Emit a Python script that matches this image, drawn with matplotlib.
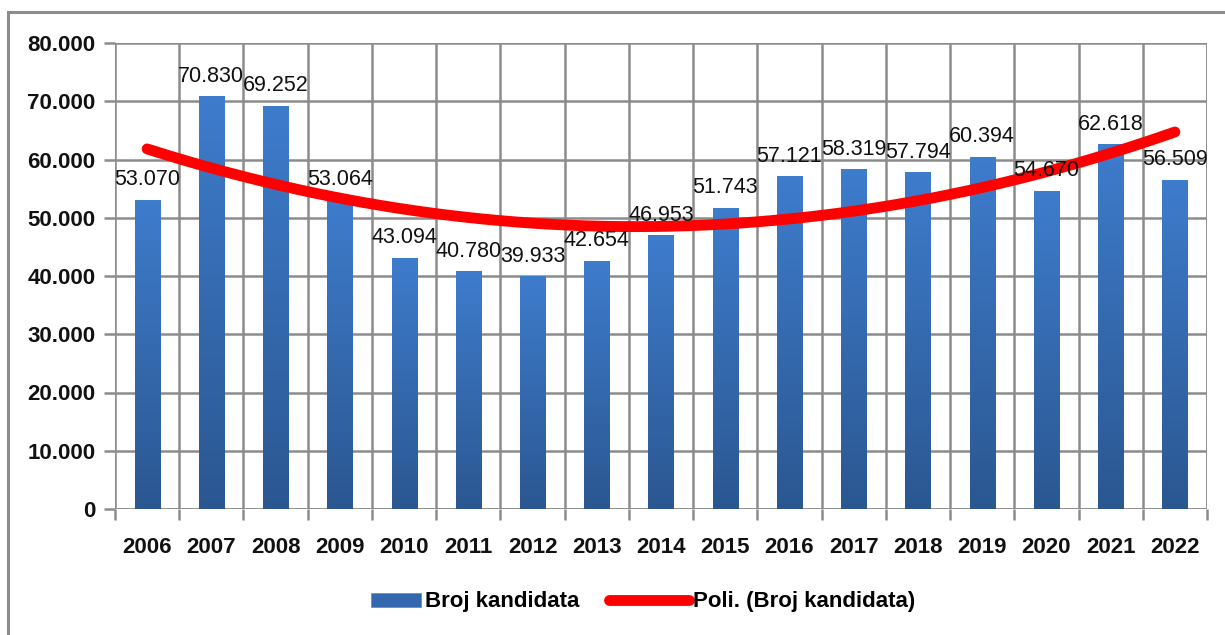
import numpy as np
import matplotlib
matplotlib.use("Agg")
import matplotlib.pyplot as plt
from matplotlib.patches import Rectangle, Patch
from matplotlib.lines import Line2D
from matplotlib.legend_handler import HandlerPatch
from matplotlib.ticker import FuncFormatter, MultipleLocator
from matplotlib.colors import LinearSegmentedColormap
from matplotlib import font_manager

years = [str(y) for y in range(2006, 2023)]
values = [53070, 70830, 69252, 53064, 43094, 40780, 39933, 42654, 46953,
          51743, 57121, 58319, 57794, 60394, 54670, 62618, 56509]
series_name = "Broj kandidata"
trend_name = "Poli. (Broj kandidata)"

avail = {f.name for f in font_manager.fontManager.ttflist}
narrow = "Liberation Sans Narrow" if "Liberation Sans Narrow" in avail else "Liberation Sans"
plt.rcParams['font.family'] = [narrow, 'DejaVu Sans']

W, H = 1225, 635
fig = plt.figure(figsize=(W / 100, H / 100), dpi=100)
ax = fig.add_axes([115 / W, 1 - 509 / H, (1207 - 115) / W, (509 - 43) / H])

x = np.arange(len(values))
bars = ax.bar(x, values, width=0.39, color="#3a73bd", zorder=3)

cmap = LinearSegmentedColormap.from_list("g", ["#2b5791", "#3e7ccc"])
grad = np.linspace(0, 1, 256).reshape(-1, 1)
for b in bars:
    x0, y0, w, h = b.get_x(), b.get_y(), b.get_width(), b.get_height()
    im = ax.imshow(grad, extent=(x0, x0 + w, y0, y0 + h), origin="lower",
                   cmap=cmap, aspect="auto", zorder=3.1)
    im.set_clip_path(b)

# polynomial (order 2) trend line, least squares like Excel
coef = np.polyfit(x, values, 2)
xs = np.linspace(0, len(values) - 1, 300)
ax.plot(xs, np.polyval(coef, xs), color="#ff0000", lw=7.8,
        solid_capstyle="round", zorder=4)

for xi, v in zip(x, values):
    ax.annotate(f"{v/1000:.3f}", (xi, v), xytext=(0, 7), textcoords="offset points",
                ha="center", va="bottom", fontsize=15.5, color="#111111", zorder=5)

ax.set_xlim(-0.5, len(values) - 0.5)
ax.set_ylim(0, 80000)
ax.yaxis.set_major_locator(MultipleLocator(10000))
ax.yaxis.set_major_formatter(FuncFormatter(lambda v, p: "0" if v == 0 else f"{int(v)//1000}.000"))
ax.set_xticks(x)
ax.set_xticklabels(years)
ax.set_xticks(np.arange(-0.5, len(values), 1), minor=True)

grid_c = "#8c8c8c"
ax.grid(True, axis="y", color=grid_c, lw=1.8, zorder=0)
ax.grid(True, axis="x", which="minor", color=grid_c, lw=1.8, zorder=0)
ax.grid(False, axis="x", which="major")
for s in ax.spines.values():
    s.set_visible(False)
ax.tick_params(axis="x", which="major", length=0, pad=20)
ax.tick_params(axis="x", which="minor", length=8, width=1.8, color=grid_c)
ax.tick_params(axis="y", length=8, width=1.8, color=grid_c, pad=6, direction="out")
ax.axhline(0, color=grid_c, lw=1.8, zorder=2)
ax.axvline(len(values) - 0.5, color=grid_c, lw=1.8, zorder=2)
for lab in ax.get_xticklabels() + ax.get_yticklabels():
    lab.set_fontsize(16)
    lab.set_fontweight("bold")
    lab.set_color("#111111")


def small_patch(legend, orig_handle, xdescent, ydescent, width, height, fontsize):
    w = width * 0.62
    return Rectangle((-xdescent + (width - w), -ydescent), w, height)


handles = [Patch(facecolor="#3468ae", edgecolor="#5a8ad0", lw=0.5),
           Line2D([0], [0], color="#ff0000", lw=7.8, solid_capstyle="round")]
fig.legend(handles, [series_name, trend_name], loc="center",
           bbox_to_anchor=(628 / W, 1 - 602 / H), ncol=2, frameon=False,
           prop={"size": 16, "weight": "bold", "family": [narrow, "DejaVu Sans"]},
           handlelength=3.6, handleheight=0.6, columnspacing=1.3, handletextpad=0.2,
           handler_map={Patch: HandlerPatch(patch_func=small_patch)})

fig.patches.append(Rectangle((8 / W, -0.1), 1.2, 1 - 12 / H + 0.1,
                             transform=fig.transFigure, fill=False,
                             edgecolor="#8c8c8c", lw=2.2))
fig.savefig("out.png", dpi=100)
